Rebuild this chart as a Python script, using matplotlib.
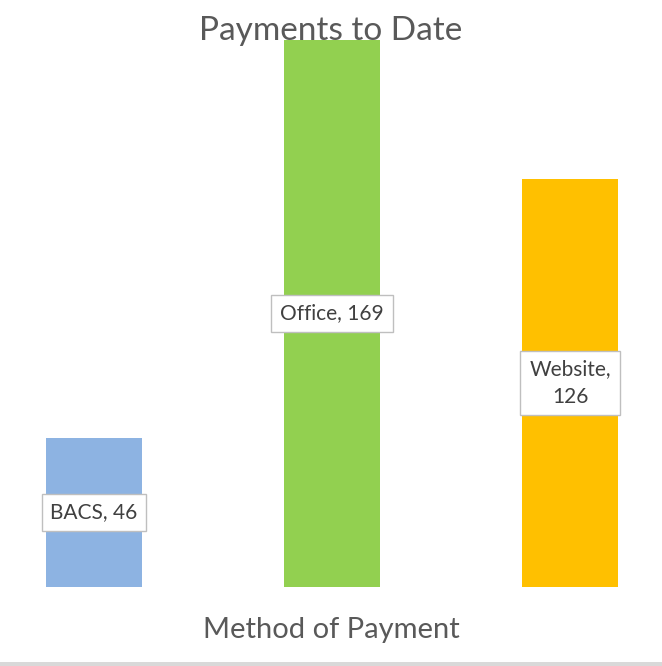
import matplotlib
matplotlib.use('Agg')
from matplotlib import pyplot as plt

methods = ['BACS', 'Office', 'Website']
payments = [46, 169, 126]
colours = ['#8db3e2', '#92d050', '#ffc000']
label_texts = ['BACS, 46', 'Office, 169', 'Website,\n126']

plt.rcParams['font.family'] = ['Lato', 'DejaVu Sans']

W, H = 662, 666
fig = plt.figure(figsize=(W / 100, H / 100), dpi=100)

# plot area: bar baseline at y=587px, tallest bar top at y=40px
bottom_px, top_px = 587, 40
ax = fig.add_axes([0, 1 - bottom_px / H, 1, (bottom_px - top_px) / H])
x = range(len(methods))
ax.bar(x, payments, width=0.40, color=colours, zorder=2)
ax.set_xlim(-94 / 238, 2 + 92 / 238)
ax.set_ylim(0, max(payments))
ax.axis('off')

for i, (val, txt) in enumerate(zip(payments, label_texts)):
    ax.text(i, val / 2, txt, ha='center', va='center', fontsize=15,
            color='#404040', linespacing=1.45, zorder=3,
            bbox=dict(boxstyle='square,pad=0.42', fc='white', ec='#bfbfbf', lw=1))

fig.text(0.5, 1 - 31 / H, 'Payments to Date', ha='center', va='center',
         fontsize=24, color='#595959', zorder=5)
fig.text(0.5, 1 - 630 / H, 'Method of Payment', ha='center', va='center',
         fontsize=21, color='#595959')

# thin grey strip along the bottom edge
fig.add_artist(plt.Rectangle((0, 0), 1, 4 / H, transform=fig.transFigure,
                             color='#d9d9d9', lw=0))

fig.savefig('out.png', dpi=100)
